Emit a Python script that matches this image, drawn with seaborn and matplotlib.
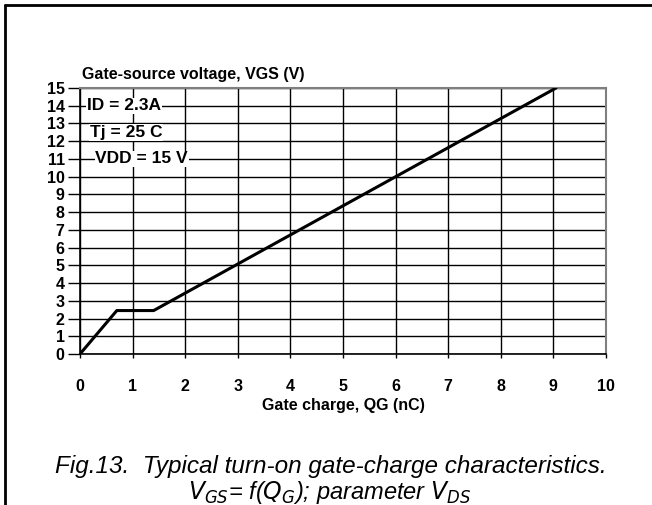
import matplotlib
matplotlib.use("Agg")
import matplotlib.pyplot as plt
from matplotlib.lines import Line2D
import pandas as pd
import seaborn as sns

# gate charge curve
gate_charge_nc = [0.0, 0.7, 1.4, 9.05]
vgs_volts = [0.0, 2.45, 2.45, 15.0]

x_ticks = list(range(0, 11))
y_ticks = list(range(0, 16))

conditions = ["ID = 2.3A", "Tj = 25 C", "VDD = 15 V"]
condition_x = [0.13, 0.19, 0.29]
condition_y = [14, 12.5, 11]

sns.set_style("white")
plt.rcParams['font.family'] = ['Liberation Sans', 'DejaVu Sans']
plt.rcParams['text.color'] = 'black'
plt.rcParams['axes.labelcolor'] = 'black'
plt.rcParams['xtick.color'] = 'black'
plt.rcParams['ytick.color'] = 'black'

df = pd.DataFrame({"QG": gate_charge_nc, "VGS": vgs_volts})

fig = plt.figure(figsize=(6.52, 5.05), dpi=100)
ax = fig.add_axes([80 / 652, 1 - 354 / 505, (606 - 80) / 652, (354 - 88) / 505])

sns.lineplot(data=df, x="QG", y="VGS", ax=ax, color="black", linewidth=2.2, zorder=5)

ax.set_xlim(0, 10)
ax.set_ylim(0, 15)
ax.set_xticks(x_ticks)
ax.set_yticks(y_ticks)
ax.set_xticklabels([str(v) for v in x_ticks], fontsize=11.5, fontweight="bold")
ax.set_yticklabels([str(v) for v in y_ticks], fontsize=11.5, fontweight="bold")
ax.grid(True, color="black", linewidth=1.0)
ax.tick_params(axis="y", length=9, width=1, pad=2, direction="out", left=True)
ax.tick_params(axis="x", length=3, width=1, pad=15, direction="out", bottom=True)

for side in ["left", "bottom"]:
    ax.spines[side].set_color("black")
    ax.spines[side].set_linewidth(1.2)
for side in ["top", "right"]:
    ax.spines[side].set_visible(True)
    ax.spines[side].set_color("#7f7f7f")
    ax.spines[side].set_linewidth(1.5)

ax.set_xlabel("Gate charge, QG (nC)", fontsize=11.5, fontweight="bold", labelpad=3)
ax.set_ylabel("")
ax.text(0.03, 15.35, "Gate-source voltage, VGS (V)", fontsize=11.5, fontweight="bold",
        ha="left", va="bottom")

for label, xv, yv in zip(conditions, condition_x, condition_y):
    ax.text(xv, yv, label, fontsize=12.5, fontweight="bold", ha="left", va="center",
            zorder=6, bbox=dict(facecolor="white", edgecolor="none", pad=0.5))

fig.text(331 / 652, 1 - 467 / 505, "Fig.13.  Typical turn-on gate-charge characteristics.",
         fontsize=17.5, style="italic", ha="center", va="center")
fig.text(330 / 652, 1 - 492 / 505,
         r"$V_{GS}$= f($Q_G$); parameter $V_{DS}$",
         fontsize=17, style="italic", ha="center", va="center")

# page frame (top and left edges only)
fig.add_artist(Line2D([5 / 652, 1], [1 - 5 / 505, 1 - 5 / 505], color="black", linewidth=2,
                      transform=fig.transFigure))
fig.add_artist(Line2D([5 / 652, 5 / 652], [0, 1 - 5 / 505], color="black", linewidth=2,
                      transform=fig.transFigure))

fig.savefig("out.png", dpi=100)
